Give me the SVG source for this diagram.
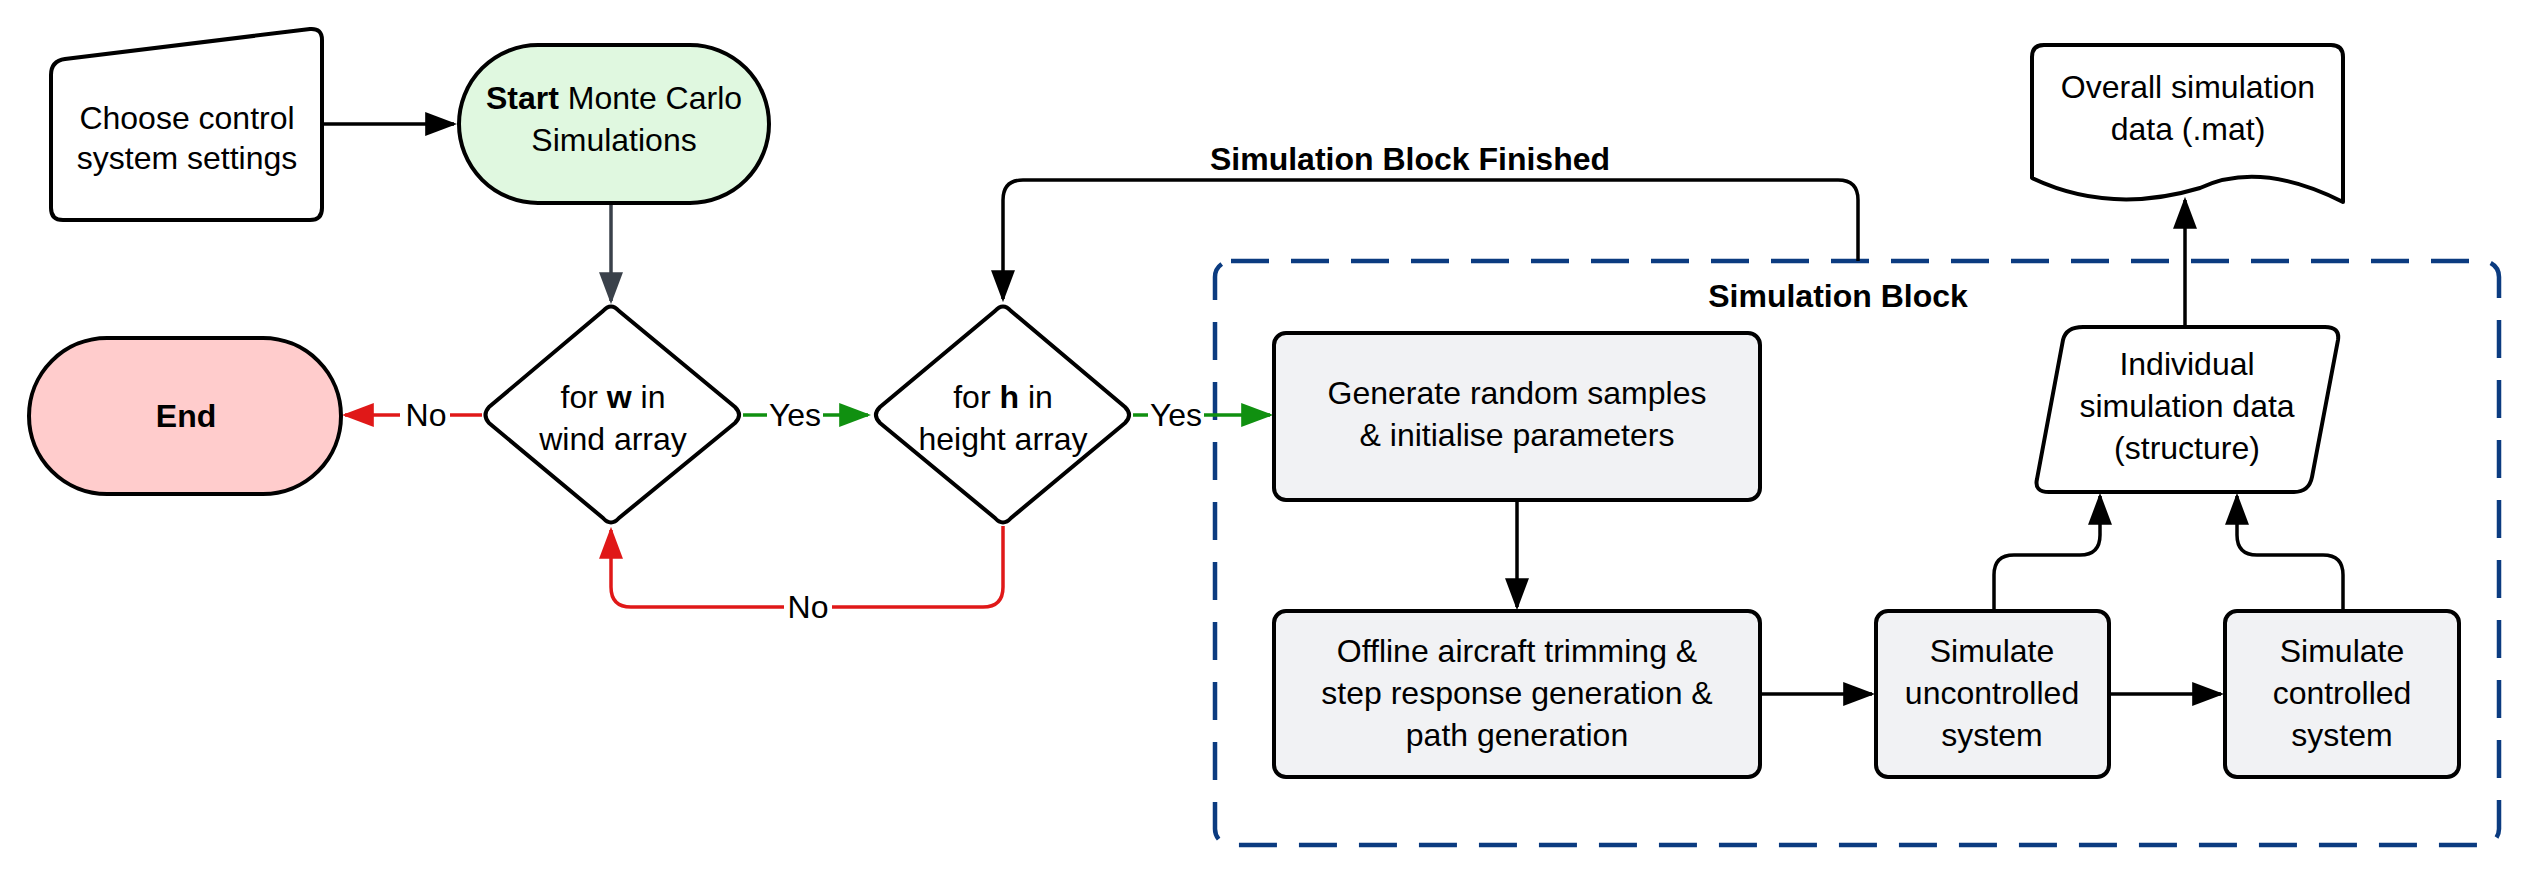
<svg xmlns="http://www.w3.org/2000/svg" width="2523" height="873" viewBox="0 0 2523 873">
<style>
text{font-family:"Liberation Sans",Arial,sans-serif;font-size:32px;fill:#000;text-anchor:middle}
.b{font-weight:bold}
.n{stroke:#000;stroke-width:4;stroke-linejoin:round}
.c{fill:none;stroke-width:3.5}
.k{stroke:#000}
.r{stroke:#e01818}
.g{stroke:#109010}
.lb{fill:#fff;stroke:none}
</style>
<defs>
<marker id="ak" markerWidth="10" markerHeight="10" refX="9" refY="5" orient="auto" markerUnits="userSpaceOnUse" viewBox="0 0 10 10"><path d="M0,0L10,5L0,10z" fill="#000"/></marker>
<marker id="ar" viewBox="0 0 10 10" refX="9" refY="5" markerWidth="32" markerHeight="24" orient="auto" markerUnits="userSpaceOnUse" preserveAspectRatio="none"><path d="M0,0L10,5L0,10z" fill="#e01818"/></marker>
<marker id="ag" viewBox="0 0 10 10" refX="9" refY="5" markerWidth="32" markerHeight="24" orient="auto" markerUnits="userSpaceOnUse" preserveAspectRatio="none"><path d="M0,0L10,5L0,10z" fill="#109010"/></marker>
<marker id="ab" viewBox="0 0 10 10" refX="9" refY="5" markerWidth="32" markerHeight="24" orient="auto" markerUnits="userSpaceOnUse" preserveAspectRatio="none"><path d="M0,0L10,5L0,10z" fill="#000"/></marker>
<marker id="ad" viewBox="0 0 10 10" refX="9" refY="5" markerWidth="32" markerHeight="24" orient="auto" markerUnits="userSpaceOnUse" preserveAspectRatio="none"><path d="M0,0L10,5L0,10z" fill="#3a414a"/></marker>
</defs>
<g id="container">
<rect x="1215" y="261" width="1284" height="584" rx="16" fill="none" stroke="#0b3b80" stroke-width="4.5" stroke-dasharray="38,22"/>
<text class="b" x="1838" y="307">Simulation Block</text>
</g>
<g id="connectors">
<path class="c k" d="M322,124H454" marker-end="url(#ab)"/>
<path class="c" stroke="#3a414a" stroke-width="2" d="M611,203V301" marker-end="url(#ad)"/>
<path class="c r" d="M482,415H345" marker-end="url(#ar)"/>
<rect class="lb" x="400" y="397" width="50" height="36"/><text x="426" y="426">No</text>
<path class="c g" d="M743,415H868" marker-end="url(#ag)"/>
<rect class="lb" x="767" y="397" width="56" height="36"/><text x="795" y="426">Yes</text>
<path class="c g" d="M1133,415H1270" marker-end="url(#ag)"/>
<rect class="lb" x="1148" y="397" width="56" height="36"/><text x="1176" y="426">Yes</text>
<path class="c r" d="M1003,526V587Q1003,607 983,607H631Q611,607 611,587V530" marker-end="url(#ar)"/>
<rect class="lb" x="784" y="590" width="48" height="34"/><text x="808" y="618">No</text>
<path class="c k" d="M1858,261V200Q1858,180 1838,180H1023Q1003,180 1003,200V299" marker-end="url(#ab)"/>
<text class="b" x="1410" y="170">Simulation Block Finished</text>
<path class="c k" d="M1517,500V607" marker-end="url(#ab)"/>
<path class="c k" d="M1760,694H1872" marker-end="url(#ab)"/>
<path class="c k" d="M2109,694H2221" marker-end="url(#ab)"/>
<path class="c k" d="M1994,611V575Q1994,555 2014,555H2080Q2100,555 2100,535V496" marker-end="url(#ab)"/>
<path class="c k" d="M2343,611V575Q2343,555 2323,555H2257Q2237,555 2237,535V496" marker-end="url(#ab)"/>
<path class="c k" d="M2185,327V200" marker-end="url(#ab)"/>
</g>
<g id="choose">
<path class="n" fill="#fff" d="M51,75Q51,61 65,59L310,29Q322,28 322,40V208Q322,220 310,220H63Q51,220 51,208Z"/>
<text x="187" y="129">Choose control</text><text x="187" y="169">system settings</text>
</g>
<g id="start">
<rect class="n" x="459" y="45" width="310" height="158" rx="79" fill="#e0f8e0"/>
<text x="614" y="109"><tspan class="b">Start</tspan> Monte Carlo</text><text x="614" y="151">Simulations</text>
</g>
<g id="end">
<rect class="n" x="29" y="338" width="312" height="156" rx="78" fill="#ffcccc"/>
<text class="b" x="186" y="427">End</text>
</g>
<g id="windLoop">
<path class="n" fill="#fff" d="M603,311Q611,302 619,311L735,407Q743,415 735,423L619,518Q611,527 603,518L489,423Q482,415 489,407Z"/>
<text x="613" y="408">for <tspan class="b">w</tspan> in</text><text x="613" y="450">wind array</text>
</g>
<g id="heightLoop">
<path class="n" fill="#fff" d="M995,311Q1003,302 1011,311L1125,407Q1133,415 1125,423L1011,518Q1003,527 995,518L880,423Q872,415 880,407Z"/>
<text x="1003" y="408">for <tspan class="b">h</tspan> in</text><text x="1003" y="450">height array</text>
</g>
<g id="generate">
<rect class="n" x="1274" y="333" width="486" height="167" rx="12" fill="#f1f2f4"/>
<text x="1517" y="404">Generate random samples</text><text x="1517" y="446">&amp; initialise parameters</text>
</g>
<g id="offline">
<rect class="n" x="1274" y="611" width="486" height="166" rx="12" fill="#f1f2f4"/>
<text x="1517" y="662">Offline aircraft trimming &amp;</text><text x="1517" y="704">step response generation &amp;</text><text x="1517" y="746">path generation</text>
</g>
<g id="uncontrolled">
<rect class="n" x="1876" y="611" width="233" height="166" rx="12" fill="#f1f2f4"/>
<text x="1992" y="662">Simulate</text><text x="1992" y="704">uncontrolled</text><text x="1992" y="746">system</text>
</g>
<g id="controlled">
<rect class="n" x="2225" y="611" width="234" height="166" rx="12" fill="#f1f2f4"/>
<text x="2342" y="662">Simulate</text><text x="2342" y="704">controlled</text><text x="2342" y="746">system</text>
</g>
<g id="individual">
<path class="n" fill="#fff" d="M2083,327H2325Q2340,327 2338,340L2312,477Q2309,492 2294,492H2049Q2034,492 2037,479L2063,340Q2066,327 2083,327Z"/>
<text x="2187" y="375">Individual</text><text x="2187" y="417">simulation data</text><text x="2187" y="459">(structure)</text>
</g>
<g id="overall">
<path class="n" fill="#fff" d="M2044,45H2331Q2343,45 2343,57V202Q2260,160 2200,188Q2110,215 2032,178V57Q2032,45 2044,45Z"/>
<text x="2188" y="98">Overall simulation</text><text x="2188" y="140">data (.mat)</text>
</g>
</svg>
